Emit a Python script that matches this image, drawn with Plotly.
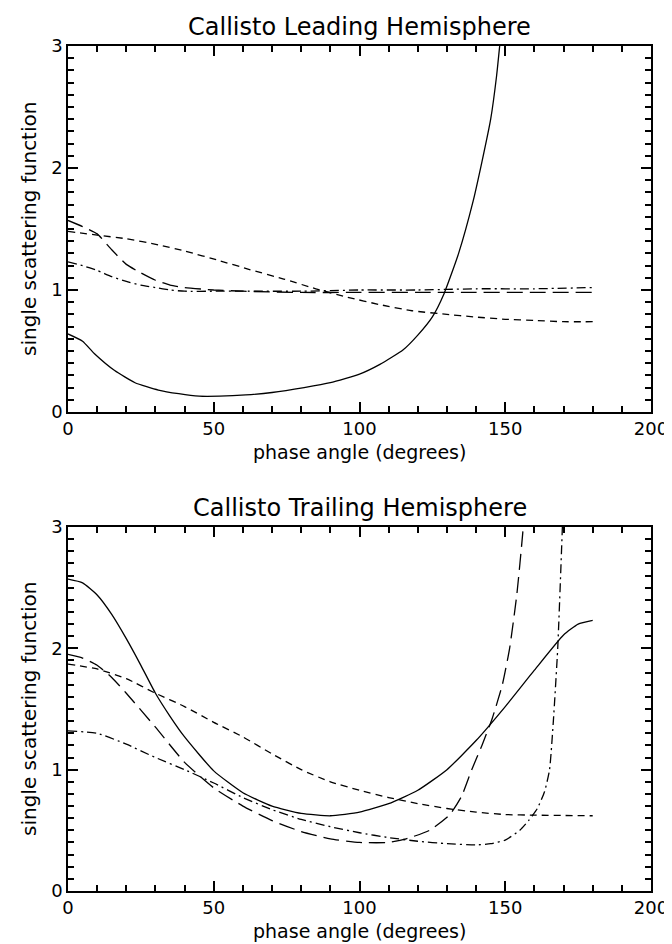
import plotly.graph_objects as go

# ---------------- data: Leading hemisphere ----------------
lead_solid_x = [0, 5, 9, 16, 23, 31, 38, 45, 52, 61, 70, 81, 90, 100, 107, 115, 120, 125, 129, 134, 139, 142, 145, 147, 148.5]
lead_solid_y = [0.64, 0.58, 0.48, 0.34, 0.24, 0.18, 0.15, 0.13, 0.13, 0.14, 0.16, 0.20, 0.24, 0.31, 0.39, 0.51, 0.63, 0.78, 0.97, 1.30, 1.73, 2.05, 2.40, 2.75, 3.10]

lead_sdash_x = [0, 10, 20, 31, 40, 52, 62, 74, 85, 96, 107, 118, 130, 139, 150, 160, 170, 180]
lead_sdash_y = [1.48, 1.45, 1.42, 1.37, 1.32, 1.24, 1.17, 1.09, 1.01, 0.94, 0.88, 0.83, 0.80, 0.78, 0.76, 0.75, 0.74, 0.74]

lead_ldash_x = [0, 5, 10, 15, 20, 25, 30, 35, 40, 50, 60, 80, 100, 120, 140, 160, 180]
lead_ldash_y = [1.57, 1.52, 1.46, 1.33, 1.21, 1.14, 1.08, 1.04, 1.02, 1.00, 0.99, 0.98, 0.98, 0.98, 0.98, 0.98, 0.98]

lead_dd_x = [0, 5, 10, 15, 20, 25, 30, 35, 40, 50, 60, 80, 100, 120, 140, 160, 180]
lead_dd_y = [1.23, 1.20, 1.16, 1.11, 1.07, 1.04, 1.02, 1.00, 0.99, 0.99, 0.99, 0.99, 1.00, 1.00, 1.01, 1.01, 1.02]

# ---------------- data: Trailing hemisphere ----------------
trail_solid_x = [0, 5, 10, 15, 20, 25, 30, 35, 40, 50, 60, 70, 80, 90, 100, 110, 120, 130, 140, 150, 160, 170, 175, 180]
trail_solid_y = [2.57, 2.54, 2.44, 2.28, 2.08, 1.86, 1.63, 1.44, 1.27, 0.99, 0.81, 0.70, 0.64, 0.62, 0.65, 0.72, 0.83, 1.00, 1.24, 1.52, 1.82, 2.11, 2.20, 2.23]

trail_sdash_x = [0, 10, 20, 30, 40, 50, 60, 70, 80, 90, 100, 110, 120, 130, 140, 150, 160, 180]
trail_sdash_y = [1.87, 1.83, 1.75, 1.63, 1.52, 1.39, 1.27, 1.13, 1.00, 0.90, 0.83, 0.77, 0.72, 0.68, 0.65, 0.63, 0.625, 0.62]

trail_ldash_x = [0, 5, 10, 15, 20, 30, 40, 50, 60, 70, 80, 90, 100, 110, 116, 124, 131, 135, 138.5, 142, 145.5, 149, 151.5, 154, 156, 157]
trail_ldash_y = [1.95, 1.92, 1.86, 1.76, 1.63, 1.35, 1.06, 0.85, 0.70, 0.58, 0.49, 0.43, 0.40, 0.40, 0.43, 0.50, 0.63, 0.78, 1.00, 1.20, 1.42, 1.70, 2.00, 2.45, 2.95, 3.30]

trail_dd_x = [0, 10, 20, 30, 40, 50, 60, 70, 80, 90, 100, 110, 120, 130, 140, 145, 150, 155, 158, 161, 163.5, 165.2, 166.5, 168, 169.6, 170]
trail_dd_y = [1.32, 1.30, 1.21, 1.10, 1.00, 0.89, 0.77, 0.67, 0.59, 0.53, 0.48, 0.44, 0.41, 0.39, 0.38, 0.39, 0.42, 0.50, 0.58, 0.68, 0.82, 1.00, 1.40, 2.00, 3.00, 3.30]

titles = ["Callisto Leading Hemisphere", "Callisto Trailing Hemisphere"]
xlabel = "phase angle (degrees)"
ylabel = "single scattering function"
x_major = 50
y_major = 1

FONT = "DejaVu Sans"
W, H = 672, 944
ML, MR, MT, MB = 60, 21, 38, 61

SOLID = "solid"
SDASH = "7px,5px"
LDASH = "16px,7px"
DDOT = "9px,4px,2px,4px"

fig = go.Figure()

def add(x, y, dash, ax):
    fig.add_trace(go.Scatter(x=x, y=y, mode="lines", xaxis="x" + ax, yaxis="y" + ax,
                             line=dict(color="black", width=1.3, dash=dash, shape="spline", smoothing=0.5),
                             showlegend=False, hoverinfo="skip"))

add(lead_solid_x, lead_solid_y, SOLID, "")
add(lead_sdash_x, lead_sdash_y, SDASH, "")
add(lead_ldash_x, lead_ldash_y, LDASH, "")
add(lead_dd_x, lead_dd_y, DDOT, "")
add(trail_solid_x, trail_solid_y, SOLID, "2")
add(trail_sdash_x, trail_sdash_y, SDASH, "2")
add(trail_ldash_x, trail_ldash_y, LDASH, "2")
add(trail_dd_x, trail_dd_y, DDOT, "2")

ph = H - MT - MB
def frac(ypix):
    return (H - MB - ypix) / ph

top_dom = [frac(404), 1.0]
bot_dom = [0.0, frac(519)]

def axis(rng, major, minor_step):
    return dict(range=rng, tickmode="linear", tick0=0, dtick=major,
                ticks="inside", ticklen=10, tickwidth=2, tickcolor="black",
                showline=True, linecolor="black", linewidth=1.5, mirror="ticks",
                showgrid=False, zeroline=False,
                minor=dict(tickmode="linear", tick0=0, dtick=minor_step, ticks="inside",
                           ticklen=6, tickwidth=1.5, tickcolor="black", showgrid=False),
                tickfont=dict(family=FONT, size=18, color="black"))

fig.update_layout(
    width=W, height=H, margin=dict(l=ML, r=MR, t=MT, b=MB),
    paper_bgcolor="white", plot_bgcolor="white",
    xaxis=dict(axis([0, 200], x_major, 10), domain=[0, 1], anchor="y"),
    yaxis=dict(axis([0, 3], y_major, 0.1), domain=top_dom, anchor="x"),
    xaxis2=dict(axis([0, 200], x_major, 10), domain=[0, 1], anchor="y2"),
    yaxis2=dict(axis([0, 3], y_major, 0.1), domain=bot_dom, anchor="x2"),
)

cx = 0.5
ann = []
for i, dom in enumerate([top_dom, bot_dom]):
    ann.append(dict(text=titles[i], x=cx, y=dom[1], xref="paper", yref="paper", xanchor="center", yanchor="bottom",
                    yshift=3, showarrow=False, font=dict(family=FONT, size=24, color="black")))
    ann.append(dict(text=xlabel, x=cx, y=dom[0], xref="paper", yref="paper", xanchor="center", yanchor="middle",
                    yshift=-40, showarrow=False, font=dict(family=FONT, size=19, color="black")))
    ann.append(dict(text=ylabel, x=0, y=(dom[0] + dom[1]) / 2, xref="paper", yref="paper", xanchor="center", yanchor="middle",
                    xshift=-39, textangle=-90, showarrow=False, font=dict(family=FONT, size=20, color="black")))
fig.update_layout(annotations=ann)

fig.write_html("out.html")
